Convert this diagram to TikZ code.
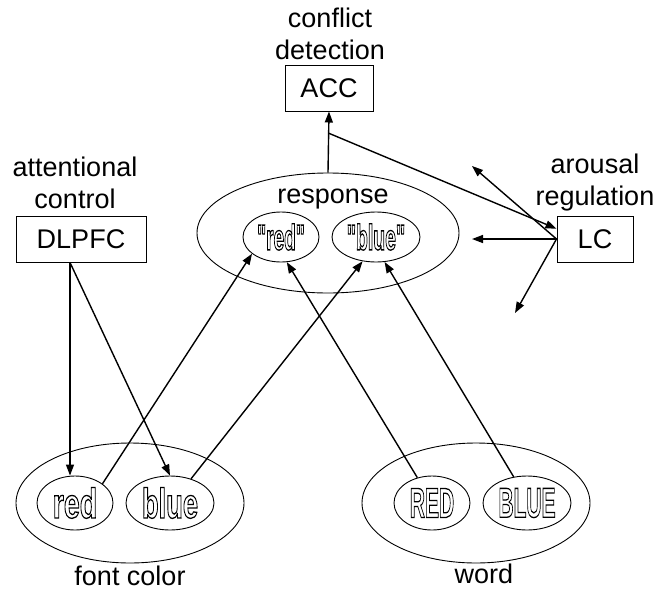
\documentclass[tikz,border=0pt]{standalone}
\usepackage{fontspec}
\setmainfont{Liberation Sans}
\newfontfamily\outfont{Liberation Sans}[Ligatures=TeXOff]
\usepackage{graphicx}
\usetikzlibrary{arrows.meta, shapes.geometric}

% outlined, condensed word: squeeze, size, text
\newcommand{\outword}[3]{\scalebox{#1}[1]{\fontsize{#2}{#2}\outfont\bfseries
  \special{pdf:literal direct q 1 Tr 1.3 w}#3\special{pdf:literal direct Q}}}

\begin{document}
\begin{tikzpicture}[x=1pt, y=-1pt, font=\fontsize{27}{32}\selectfont,
  box/.style={draw, line width=1pt, minimum height=46pt, inner sep=0pt},
  oval/.style={draw, ellipse, line width=0.9pt, inner sep=0pt},
  link/.style={line width=1.4pt, -{Triangle[length=11pt, width=8pt]}}]
\useasboundingbox (0,0) rectangle (659,592);
% boxes and their captions
\node (acc) at (329,88) [box, minimum width=88pt] {ACC};
\node (acclab) at (330,34) [align=center] {conflict\\detection};
\node (dlpfc) at (81,239) [box, minimum width=130pt] {DLPFC};
\node (dlpfclab) at (75,183) [align=center] {attentional\\control};
\node (lc) at (595,239) [box, minimum width=76pt] {LC};
\node (lclab) at (595,183) [align=center] {arousal\\regulation};
% response layer
\node (resp) at (328,233) [oval, minimum width=262pt, minimum height=120pt] {};
\node (resplab) at (333,203) [anchor=base] {response};
\node (rred) at (281,237) [oval, minimum width=76pt, minimum height=50pt] {\outword{0.53}{36}{"red"}};
\node (rblue) at (376,237) [oval, minimum width=88pt, minimum height=50pt] {\outword{0.54}{36}{"blue"}};
% font color layer
\node (fc) at (130,503) [oval, minimum width=228pt, minimum height=120pt] {};
\node (fclab) at (130,585) [anchor=base] {font color};
\node (fred) at (75,503) [oval, minimum width=76pt, minimum height=54pt] {\outword{0.68}{42}{red}};
\node (fblue) at (170,503) [oval, minimum width=88pt, minimum height=54pt] {\outword{0.65}{42}{blue}};
% word layer
\node (wd) at (476,503) [oval, minimum width=228pt, minimum height=120pt] {};
\node (wdlab) at (484,583) [anchor=base] {word};
\node (wred) at (432,503) [oval, minimum width=76pt, minimum height=54pt] {\outword{0.5}{42}{RED}};
\node (wblue) at (527,503) [oval, minimum width=88pt, minimum height=54pt] {\outword{0.5}{42}{BLUE}};
% connections
\draw [link] ([xshift=-11pt]dlpfc.south) -- ([xshift=-5pt]fred.north);
\draw [link] ([xshift=-11pt]dlpfc.south) -- (fblue.north);
\draw [link] (fred.35) -- (rred.210);
\draw [link] (fblue.49) -- (rblue.241);
\draw [link] (wred.120) -- (rred.283);
\draw [link] (wblue.117) -- (rblue.289);
\draw [link] (resp.north) -- (acc.south);
\path (resp.north) -- (acc.south) coordinate[pos=0.645] (tap);
\draw [link] (tap) -- (lc.165);
\coordinate (lcup) at (472,166);
\coordinate (lcleft) at (472,239);
\coordinate (lcdown) at (515,313);
\draw [link] (lc.west) -- (lcup);
\draw [link] (lc.west) -- (lcleft);
\draw [link] (lc.west) -- (lcdown);
\end{tikzpicture}
\end{document}
